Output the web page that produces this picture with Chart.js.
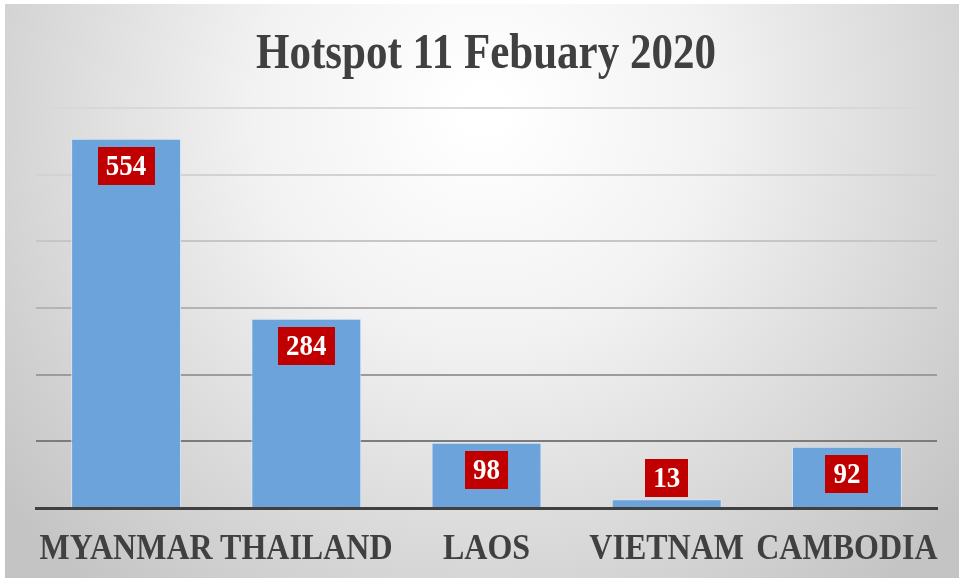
<!DOCTYPE html>
<html>
<head>
<meta charset="utf-8">
<script src="https://cdn.jsdelivr.net/npm/chart.js@4/dist/chart.umd.min.js"></script>
<style>
html,body{margin:0;padding:0;background:#fff;}
#wrap{width:969px;height:584px;position:relative;}
</style>
</head>
<body>
<div id="wrap"><canvas id="c" width="969" height="584"></canvas></div>
<script>
const categories = ["MYANMAR", "THAILAND", "LAOS", "VIETNAM", "CAMBODIA"];
const hotspots = [554, 284, 98, 13, 92];
const chartTitle = "Hotspot 11 Febuary 2020";
const yMax = 600;
const yStep = 100;

const SERIF = '"Liberation Serif", "Times New Roman", serif';

function stretchedText(ctx, txt, x, y, font, color, sy) {
  ctx.save();
  ctx.font = font;
  ctx.fillStyle = color;
  ctx.textAlign = 'center';
  ctx.textBaseline = 'alphabetic';
  ctx.translate(x, y);
  ctx.scale(1, sy);
  ctx.fillText(txt, 0, 0);
  ctx.restore();
}

const bgPlugin = {
  id: 'bg',
  beforeDraw(chart) {
    const ctx = chart.ctx;
    ctx.save();
    ctx.fillStyle = '#ffffff';
    ctx.fillRect(0, 0, chart.width, chart.height);
    const g = ctx.createRadialGradient(484, 110, 20, 484, 110, 620);
    g.addColorStop(0, '#ffffff');
    g.addColorStop(0.35, '#f2f2f2');
    g.addColorStop(1, '#c4c4c4');
    ctx.fillStyle = g;
    ctx.fillRect(5, 4, 954, 574);
    ctx.restore();
  }
};

const textPlugin = {
  id: 'texts',
  afterDraw(chart) {
    const ctx = chart.ctx;
    // title
    stretchedText(ctx, chartTitle, 486, 68, 'bold 43px ' + SERIF, '#404040', 1.16);
    // category labels
    const xs = chart.scales.x;
    chart.data.labels.forEach((lab, i) => {
      stretchedText(ctx, lab, xs.getPixelForTick(i), 559, 'bold 32px ' + SERIF, '#404040', 1.13);
    });
  }
};

const labelPlugin = {
  id: 'boxLabels',
  afterDatasetsDraw(chart) {
    const ctx = chart.ctx;
    const meta = chart.getDatasetMeta(0);
    ctx.save();
    ctx.font = 'bold 27px ' + SERIF;
    meta.data.forEach((bar, i) => {
      const txt = String(chart.data.datasets[0].data[i]);
      const w = ctx.measureText(txt).width + 16;
      const h = 38;
      const barH = bar.base - bar.y;
      let top;
      if (barH >= h + 12) top = bar.y + 8; else top = bar.y - 2 - h;
      ctx.fillStyle = '#c00000';
      ctx.fillRect(Math.round(bar.x - w / 2), Math.round(top), Math.round(w), h);
      stretchedText(ctx, txt, bar.x, top + 28, 'bold 27px ' + SERIF, '#ffffff', 1.1);
    });
    ctx.restore();
  }
};

const gridColors = {100: '#7c7c7c', 200: '#9c9c9c', 300: '#b4b4b4', 400: '#c6c6c6', 500: '#d2d2d2', 600: '#d8d8d8'};

new Chart(document.getElementById('c'), {
  type: 'bar',
  data: {
    labels: categories,
    datasets: [{
      data: hotspots,
      backgroundColor: '#6ba3da',
      borderColor: 'rgba(215,232,250,0.9)',
      borderWidth: 1,
      barPercentage: 0.61,
      categoryPercentage: 1.0
    }]
  },
  options: {
    responsive: false,
    animation: false,
    devicePixelRatio: 1,
    layout: { padding: { left: 36, right: 32, top: 108, bottom: 76 } },
    plugins: {
      legend: { display: false },
      tooltip: { enabled: false },
      title: { display: false }
    },
    scales: {
      x: {
        grid: { display: false, drawTicks: false },
        border: { display: true, color: '#404040', width: 3 },
        ticks: { display: false },
        afterFit(scale) { scale.height = 0; }
      },
      y: {
        min: 0,
        max: yMax,
        ticks: { display: false, stepSize: yStep },
        border: { display: false },
        grid: {
          drawTicks: false,
          lineWidth: 2,
          color: (c) => gridColors[c.tick ? c.tick.value : 0] || 'rgba(0,0,0,0)'
        },
        afterFit(scale) { scale.width = 0; }
      }
    }
  },
  plugins: [bgPlugin, labelPlugin, textPlugin]
});
</script>
</body>
</html>
